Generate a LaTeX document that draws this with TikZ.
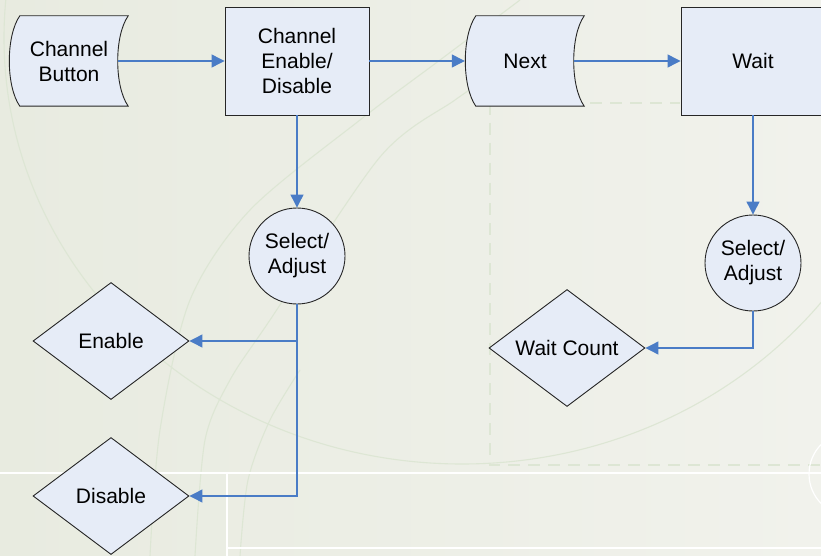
\documentclass[tikz,border=0pt]{standalone}
\usepackage{fontspec}
\setmainfont{Liberation Sans}
\usetikzlibrary{calc}
\usetikzlibrary{shapes.geometric}
\usetikzlibrary{arrows.meta}
\usetikzlibrary{backgrounds}
\definecolor{BoxFill}{HTML}{E6ECF7}
\definecolor{FlowBlue}{HTML}{4A7CC6}
\definecolor{PaperL}{HTML}{E8EBE0}
\definecolor{PaperR}{HTML}{F1F2EC}
\definecolor{PaperArc}{HTML}{DDE6D4}
\pgfdeclarelayer{paper}
\pgfsetlayers{paper,background,main}

\begin{document}
\begin{tikzpicture}[x=1pt, y=-1pt,
  font=\fontsize{21}{25}\selectfont,
  box/.style={draw=black!85, fill=BoxFill, line width=.9pt,
    minimum width=144pt, minimum height=108pt, align=center},
  tapebox/.style={minimum width=108pt, minimum height=90pt, align=center},
  tapeline/.style={draw=black!85, fill=BoxFill, line width=.9pt},
  selbox/.style={circle, draw=black!85, fill=BoxFill, line width=.9pt,
    minimum size=96pt, inner sep=0pt, align=center},
  choice/.style={diamond, aspect=1.33, draw=black!85, fill=BoxFill, line width=.9pt,
    minimum width=156pt, minimum height=117pt, inner sep=1pt},
  flow/.style={draw=FlowBlue, line width=1.2pt, -{Triangle[length=13pt,width=13pt]}}]
  \useasboundingbox (0,0) rectangle (821,556);

  % paper
  \begin{pgfonlayer}{paper}
    \shade[left color=PaperL, right color=PaperR] (0,0) rectangle (821,556);
    \draw[PaperArc, line width=1.1pt] (462,38) ellipse (458 and 426);
    \draw[PaperArc, line width=1.1pt] plot[smooth] coordinates
      {(150,556) (160,430) (190,300) (250,210) (360,120) (440,60) (520,0)};
    \draw[PaperArc, line width=1.1pt] plot[smooth] coordinates
      {(195,556) (205,440) (230,380) (270,320) (380,157) (455,100) (500,70)};
    \draw[PaperArc, line width=1.1pt] plot[smooth] coordinates
      {(240,556) (248,480) (270,420) (300,370)};
    \draw[PaperArc, line width=1.5pt, dash pattern=on 12pt off 8pt]
      (490,103) -- (680,103) (490,103) -- (490,465) -- (821,465);
    \draw[white, line width=1.2pt] (0,473) -- (821,473) (227,473) -- (227,556)
      (227,548) -- (821,548);
    \draw[white, line width=1.2pt] (851,474) circle (42);
  \end{pgfonlayer}

  % top row
  \node[tapebox] (btn) at (69,61) {Channel\\Button};
  \node[box] (ced) at (297,61) {Channel\\Enable/\\Disable};
  \node[tapebox] (next) at (525,61) {Next};
  \node[box] (wait) at (753,61) {Wait};

  \begin{scope}[on background layer]
    \foreach \n in {btn,next}
      \draw[tapeline] ([xshift=5pt]\n.north west)
        .. controls +(-14,20) and +(-14,-20) .. ([xshift=5pt]\n.south west)
        -- ([xshift=5pt]\n.south east)
        .. controls +(-14,-20) and +(-14,20) .. ([xshift=5pt]\n.north east) -- cycle;
  \end{scope}

  % lower part
  \node[selbox] (sel1) at (297,256) {Select/\\Adjust};
  \node[selbox] (sel2) at (753,263) {Select/\\Adjust};
  \node[choice] (en) at (111,341) {Enable};
  \node[choice] (dis) at (111,496) {Disable};
  \node[choice] (wc) at (567,348) {Wait Count};

  % connectors
  \coordinate (btn-out) at ($(btn.east)+(-5,0)$);
  \coordinate (next-in) at ($(next.west)+(-6,0)$);
  \coordinate (next-out) at ($(next.east)+(-5,0)$);
  \coordinate (split) at (sel1.south |- en.east);
  \draw[flow] (btn-out) -- (ced);
  \draw[flow] (ced) -- (next-in);
  \draw[flow] (next-out) -- (wait);
  \draw[flow] (ced) -- (sel1);
  \draw[flow] (wait) -- (sel2);
  \draw[flow] (sel2) |- (wc);
  \draw[flow] (sel1) |- (dis);
  \draw[flow] (split) -- (en);

\end{tikzpicture}
\end{document}
